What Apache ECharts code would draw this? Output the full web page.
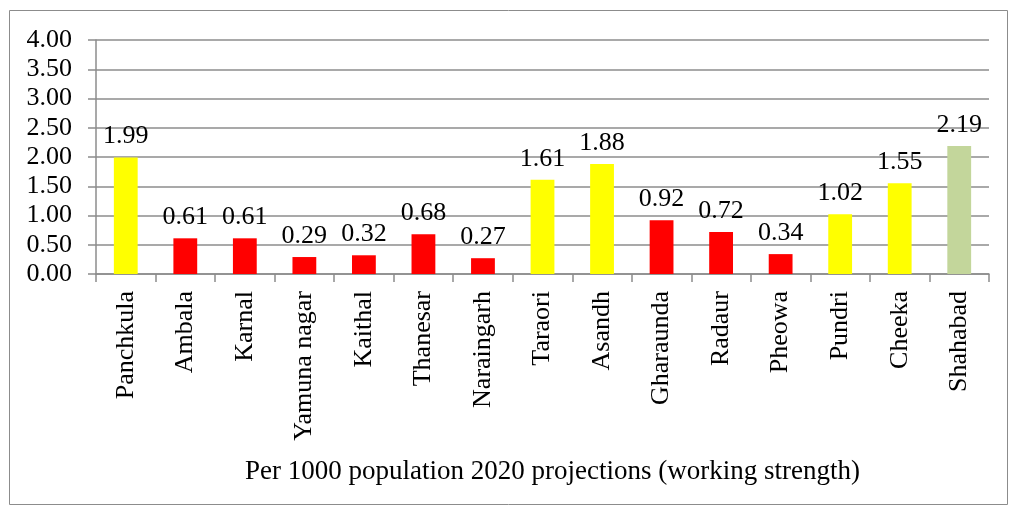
<!DOCTYPE html>
<html><head><meta charset="utf-8">
<script src="https://cdn.jsdelivr.net/npm/echarts@6/dist/echarts.min.js"></script>
<style>html,body{margin:0;padding:0;background:#fff}#c{width:1017px;height:516px}</style>
</head><body><div id="c"></div>
<script>
const categories = ["Panchkula","Ambala","Karnal","Yamuna nagar","Kaithal","Thanesar","Naraingarh","Taraori","Asandh","Gharaunda","Radaur","Pheowa","Pundri","Cheeka","Shahabad"];
const values = [1.99,0.61,0.61,0.29,0.32,0.68,0.27,1.61,1.88,0.92,0.72,0.34,1.02,1.55,2.19];
const colorGroups = ["y","r","r","r","r","r","r","y","y","r","r","r","y","y","g"];
const palette = {y:"#FFFF00", r:"#FF0000", g:"#C3D69B"};
const yTicks = {min:0, max:4, interval:0.5};
const axisTitle = "Per 1000 population 2020 projections (working strength)";
const font = "Liberation Serif";
const chart = echarts.init(document.getElementById('c'));
chart.setOption({
  animation:false,
  title:{text:axisTitle,left:240,top:453,textStyle:{fontFamily:font,fontSize:27,fontWeight:'normal',color:'#000'}},
  graphic:[{type:'rect',shape:{x:9.5,y:10.5,width:998,height:494},style:{fill:'none',stroke:'#8c8c8c',lineWidth:1}}],
  grid:{left:96,right:28,top:40,bottom:242},
  xAxis:{type:'category',data:categories,
    axisLine:{lineStyle:{color:'#8c8c8c',width:1.5}},
    axisTick:{show:true,length:8,lineStyle:{color:'#8c8c8c',width:1.5}},
    axisLabel:{rotate:90,interval:0,margin:17,fontFamily:font,fontSize:26,color:'#000'}},
  yAxis:{type:'value',min:yTicks.min,max:yTicks.max,interval:yTicks.interval,
    axisLine:{show:true,lineStyle:{color:'#8c8c8c',width:1.5}},
    axisTick:{show:true,length:8,lineStyle:{color:'#8c8c8c',width:1.5}},
    splitLine:{lineStyle:{color:'#8c8c8c',width:1.5}},
    axisLabel:{margin:24,fontFamily:font,fontSize:26,color:'#000',formatter:v=>v.toFixed(2)}},
  series:[{type:'bar',barWidth:'40%',
    data:values.map((v,i)=>({value:v,itemStyle:{color:palette[colorGroups[i]]}})),
    label:{show:true,position:'top',distance:8,fontFamily:font,fontSize:26,color:'#000',formatter:p=>p.value.toFixed(2)}}]
});
</script></body></html>
